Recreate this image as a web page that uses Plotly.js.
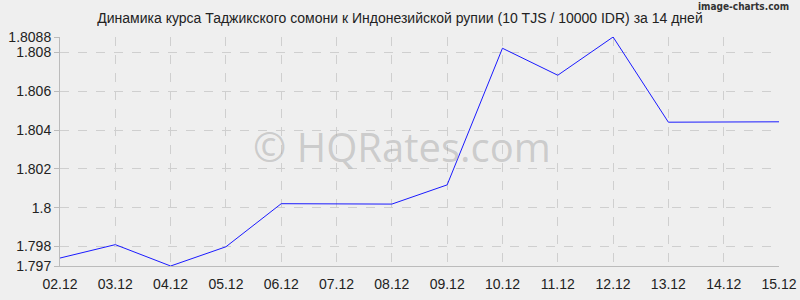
<!DOCTYPE html>
<html><head><meta charset="utf-8">
<script src="https://cdn.plot.ly/plotly-3.0.1.min.js"></script>
<style>body{margin:0;background:#efefef}#c{width:800px;height:300px}</style>
</head><body><div id="c"></div>
<script>
const dates = ["02.12","03.12","04.12","05.12","06.12","07.12","08.12","09.12","10.12","11.12","12.12","13.12","14.12","15.12"];
const rates = [1.79741,1.79810,1.79700,1.79799,1.80021,1.80020,1.80019,1.80118,1.80822,1.80683,1.80880,1.80441,1.80442,1.80443];
const yTicks = [1.797,1.798,1.8,1.802,1.804,1.806,1.808,1.8088];
const yTickText = ["1.797","1.798","1.8","1.802","1.804","1.806","1.808","1.8088"];
const titleText = "Динамика курса Таджикского сомони к Индонезийской рупии (10 TJS / 10000 IDR) за 14 дней";

const trace = {x: dates, y: rates, type: "scatter", mode: "lines",
  line: {color: "#1a1aff", width: 1}, hoverinfo: "skip"};

const layout = {
  width: 800, height: 300,
  paper_bgcolor: "#efefef", plot_bgcolor: "#efefef",
  margin: {l: 60, r: 21, t: 37, b: 34},
  showlegend: false,
  font: {family: "Liberation Sans, Arial, sans-serif", size: 14, color: "#222"},
  title: {text: titleText, x: 0.5, xanchor: "center", y: 0.94, yanchor: "middle",
    font: {size: 14, color: "#222"}},
  xaxis: {type: "category", range: [0, dates.length - 1], showgrid: true,
    gridcolor: "#cfcfcf", griddash: "dash", gridwidth: 1,
    showline: true, linecolor: "#bbb", linewidth: 1,
    ticks: "", ticklen: 0, ticklabelstandoff: 5, zeroline: false,
    tickfont: {size: 14, color: "#222"}},
  yaxis: {range: [1.797, 1.8088], tickvals: yTicks, ticktext: yTickText,
    showgrid: true, gridcolor: "#cfcfcf", griddash: "dash", gridwidth: 1,
    showline: true, linecolor: "#bbb", linewidth: 1, zeroline: false,
    ticks: "outside", ticklen: 5, tickcolor: "#bbb",
    tickfont: {size: 14, color: "#222"}},
  annotations: [
    {text: "© HQRates.com", xref: "paper", yref: "paper", x: 0.475, y: 0.52,
     xanchor: "center", yanchor: "middle",
     showarrow: false, font: {size: 40, color: "rgba(160,160,160,0.45)", family: "Open Sans, sans-serif"}},
    {text: "<b>image-charts.com</b>", xref: "paper", yref: "paper", x: 1.016, y: 1.165,
     xanchor: "right", yanchor: "top", showarrow: false,
     font: {size: 10, color: "#333", family: "DejaVu Sans Condensed, DejaVu Sans, sans-serif"}}
  ]
};
Plotly.newPlot("c", [trace], layout, {displayModeBar: false, staticPlot: true});
</script></body></html>
